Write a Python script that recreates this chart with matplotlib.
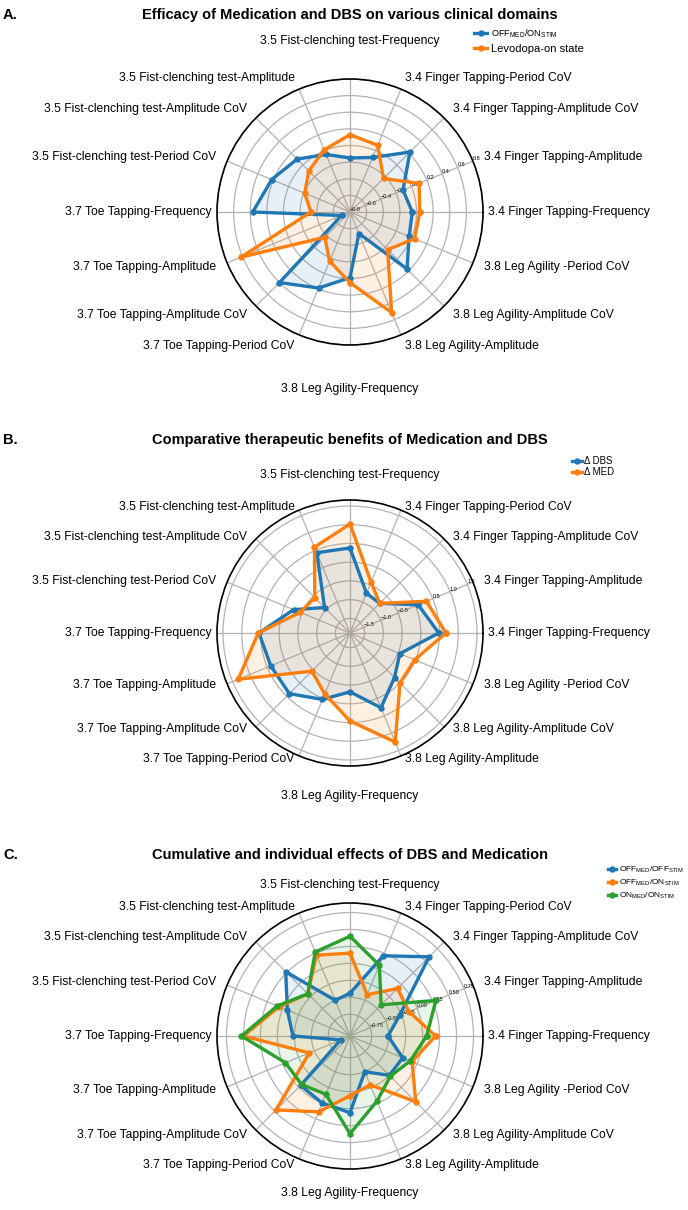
import numpy as np
import matplotlib
matplotlib.use("Agg")
import matplotlib.pyplot as plt

plt.rcParams['font.family'] = ['Liberation Sans', 'DejaVu Sans']
plt.rcParams['mathtext.fontset'] = 'custom'
plt.rcParams['mathtext.rm'] = 'Liberation Sans'
plt.rcParams['mathtext.it'] = 'Liberation Sans:italic'
plt.rcParams['mathtext.bf'] = 'Liberation Sans:bold'

# ---------------- data ----------------
categories = [
    "3.4 Finger Tapping-Frequency",
    "3.4 Finger Tapping-Amplitude",
    "3.4 Finger Tapping-Amplitude CoV",
    "3.4 Finger Tapping-Period CoV",
    "3.5 Fist-clenching test-Frequency",
    "3.5 Fist-clenching test-Amplitude",
    "3.5 Fist-clenching test-Amplitude CoV",
    "3.5 Fist-clenching test-Period CoV",
    "3.7 Toe Tapping-Frequency",
    "3.7 Toe Tapping-Amplitude",
    "3.7 Toe Tapping-Amplitude CoV",
    "3.7 Toe Tapping-Period CoV",
    "3.8 Leg Agility-Frequency",
    "3.8 Leg Agility-Amplitude",
    "3.8 Leg Agility-Amplitude CoV",
    "3.8 Leg Agility -Period CoV",
]

# Panel A
a_offmed_onstim = [-0.05, -0.11, 0.22, -0.09, -0.15, -0.05, 0.10, 0.22,
                   0.37, -0.69, 0.40, 0.19, -0.01, -0.52, 0.17, -0.03]
a_levodopa_on = [0.04, 0.10, -0.23, 0.07, 0.13, 0.01, -0.10, -0.21,
                 -0.33, 0.62, -0.37, -0.16, 0.05, 0.51, -0.16, 0.04]

# Panel B
b_delta_dbs = [0.48, 0.08, -0.77, -0.74, 0.38, 0.43, -0.93, -0.26,
               0.54, 0.40, 0.40, 0.03, -0.32, 0.27, -0.21, -0.45]
b_delta_med = [0.67, 0.32, -0.77, -0.42, 1.02, 0.59, -0.56, -0.45,
               0.56, 1.34, -0.45, -0.13, 0.46, 1.26, 0.00, -0.02]

# Panel C
c_offmed_offstim = [-0.51, -0.28, 0.58, 0.21, -0.44, -0.50, 0.27, -0.07,
                    -0.23, -0.92, -0.04, 0.00, 0.06, -0.50, -0.25, -0.23]
c_offmed_onstim = [0.19, -0.13, -0.08, -0.41, 0.15, 0.22, -0.19, 0.06,
                   0.50, -0.42, 0.47, 0.14, -0.19, -0.29, 0.30, -0.08]
c_onmed_onstim = [0.06, 0.30, -0.42, 0.06, 0.40, 0.27, -0.19, 0.09,
                  0.53, -0.04, -0.06, -0.14, 0.37, -0.03, -0.23, -0.11]

a_rticks = [-0.8, -0.6, -0.4, -0.2, 0.0, 0.2, 0.4, 0.6, 0.8]
b_rticks = [-1.5, -1.0, -0.5, 0.0, 0.5, 1.0, 1.5]
c_rticks = [-0.75, -0.5, -0.25, 0.0, 0.25, 0.5, 0.75]

titles = ["Efficacy of Medication and DBS on various clinical domains",
          "Comparative therapeutic benefits of Medication and DBS",
          "Cumulative and individual effects of DBS and Medication"]
letters = ["A.", "B.", "C."]

BLUE, ORANGE, GREEN = '#1f77b4', '#ff7f0e', '#2ca02c'

# ---------------- figure ----------------
W, H = 688, 1210
fig = plt.figure(figsize=(W / 100, H / 100), dpi=100)
R = 133  # circle radius in px
CX = 350


def px_rect(cx, cy):
    return [(cx - R) / W, 1 - (cy + R) / H, 2 * R / W, 2 * R / H]


def panel(cy, series, names, colors, rlim, rticks, ry, top_r, bot_r):
    ax = fig.add_axes(px_rect(CX, cy), projection='polar')
    n = len(categories)
    angles = np.arange(n) * 2 * np.pi / n
    closed = np.append(angles, angles[0])
    for vals, name, col in zip(series, names, colors):
        v = np.append(vals, vals[0])
        ax.fill(closed, v, color=col, alpha=0.11, zorder=2, lw=0)
        ax.plot(closed, v, color=col, lw=2.4, marker='o', ms=3.6,
                label=name, zorder=3)
    ax.set_ylim(*rlim)
    ax.set_yticks(rticks)
    ax.set_rlabel_position(22.5)
    ax.tick_params(axis='y', labelsize=4, pad=0)
    ax.set_xticks(angles)
    ax.set_xticklabels([])
    ax.tick_params(axis='x', length=0)
    ax.grid(color='#b3b3b3', lw=0.9)
    ax.spines['polar'].set_linewidth(1.2)
    rx = 145
    for ang, lab in zip(angles, categories):
        c, s = np.cos(ang), np.sin(ang)
        if abs(c) < 1e-6:
            dx, dy = 0, (top_r - R) if s > 0 else -(bot_r - R)
            ha = 'center'
        elif abs(s) < 1e-6:
            dx, dy = (138 - R) * np.sign(c), 0
            ha = 'left' if c > 0 else 'right'
        else:
            dx, dy = (rx - R) * c, (ry - R) * s
            ha = 'left' if c > 0 else 'right'
        ax.annotate(lab, xy=(ang, rlim[1]), xytext=(dx * 0.72, dy * 0.72),
                    textcoords='offset points', ha=ha, va='center',
                    fontsize=8.7, annotation_clip=False)
    return ax


def head(y, letter, title):
    fig.text(3 / W, 1 - y / H, letter, ha='left', va='center',
             fontsize=10.5, fontweight='bold')
    fig.text(CX / W, 1 - y / H, title, ha='center', va='center',
             fontsize=10.5, fontweight='bold')


# Panel A
axA = panel(212, [a_offmed_onstim, a_levodopa_on],
            [r"OFF$_{\mathrm{MED}}$/ON$_{\mathrm{STIM}}$", "Levodopa-on state"],
            [BLUE, ORANGE], (-0.8, 0.8), a_rticks, 145, 171, 177)
head(15, letters[0], titles[0])
legA = axA.legend(loc='upper left', bbox_to_anchor=(474 / W, 1 - 28 / H),
                  bbox_transform=fig.transFigure, frameon=False, borderpad=0,
                  borderaxespad=0, handlelength=1.2, handletextpad=0.3,
                  labelspacing=0.3, fontsize=8)
legA.get_texts()[0].set_fontsize(6.7)

# Panel B
axB = panel(633, [b_delta_dbs, b_delta_med], ["Δ DBS", "Δ MED"],
            [BLUE, ORANGE], (-1.89, 1.66), b_rticks, 136, 158, 163)
head(440, letters[1], titles[1])
axB.legend(loc='upper left', bbox_to_anchor=(572 / W, 1 - 456 / H),
           bbox_transform=fig.transFigure, frameon=False, borderpad=0,
           borderaxespad=0, handlelength=1.0, handletextpad=0.2,
           labelspacing=0.15, fontsize=7)

# Panel C
axC = panel(1036, [c_offmed_offstim, c_offmed_onstim, c_onmed_onstim],
            [r"OFF$_{\mathrm{MED}}$/OFF$_{\mathrm{STIM}}$",
             r"OFF$_{\mathrm{MED}}$/ON$_{\mathrm{STIM}}$",
             r"ON$_{\mathrm{MED}}$/ON$_{\mathrm{STIM}}$"],
            [BLUE, ORANGE, GREEN], (-1.07, 0.89), c_rticks, 140, 151, 157)
head(855, letters[2], titles[2])
axC.legend(loc='upper left', bbox_to_anchor=(608 / W, 1 - 865 / H),
           bbox_transform=fig.transFigure, frameon=False, borderpad=0,
           borderaxespad=0, handlelength=1.0, handletextpad=0.3,
           labelspacing=0.35, fontsize=6)

fig.savefig("out.png", dpi=100)
